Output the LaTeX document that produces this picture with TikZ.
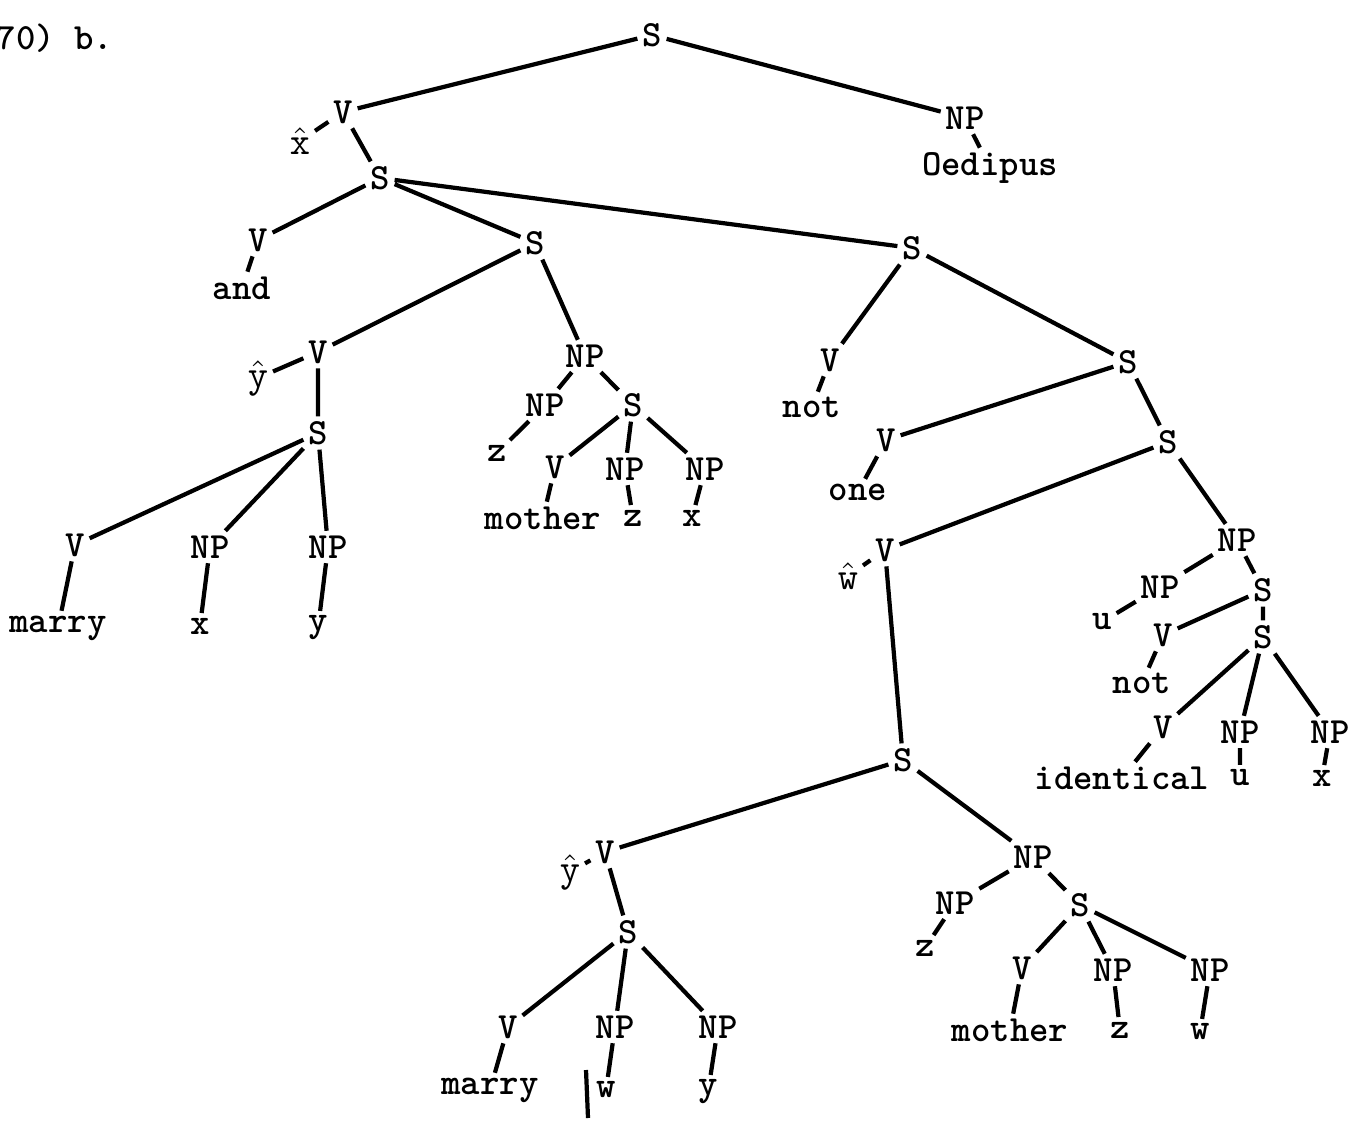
\documentclass[tikz,border=0pt]{standalone}

\begin{document}
\begin{tikzpicture}[
  x=0.01cm, y=-0.01cm,
  cat/.style={font=\fontsize{10.5}{12}\ttfamily\bfseries, inner sep=1.2pt},
  branch/.style={line width=1.2pt}
]
\useasboundingbox (0,0) rectangle (1364,1121);

\node[cat, anchor=west] (label) at (-8,38) {70) b.};

% top
\node[cat] (s0) at (652,35) {S};
\node[cat] (v1) at (343,112) {V};
\node[cat] (xh) at (300,141) {$\hat{\mathtt{x}}$};
\node[cat] (np1) at (965,118) {NP};
\node[cat] (oed) at (990,168) {Oedipus};
\node[cat] (s1) at (380,178) {S};
\node[cat] (v2) at (258,240) {V};
\node[cat] (and) at (242,288) {and};
\node[cat] (s2) at (535,243) {S};
\node[cat] (s3) at (912,248) {S};

% left part
\node[cat] (v3) at (318,352) {V};
\node[cat] (yha) at (258,378) {$\hat{\mathtt{y}}$};
\node[cat] (s4) at (318,433) {S};
\node[cat] (v4) at (75,545) {V};
\node[cat] (np3) at (210,547) {NP};
\node[cat] (np4) at (328,547) {NP};
\node[cat] (marrya) at (58,628) {marry};
\node[cat] (xa) at (200,626) {x};
\node[cat] (ya) at (318,628) {y};
\node[cat] (np2) at (585,356) {NP};
\node[cat] (np5) at (545,405) {NP};
\node[cat] (za) at (497,453) {z};
\node[cat] (s5) at (633,405) {S};
\node[cat] (v5) at (555,467) {V};
\node[cat] (np6) at (625,469) {NP};
\node[cat] (np7) at (705,469) {NP};
\node[cat] (mothera) at (543,518) {mother};
\node[cat] (zb) at (633,518) {z};
\node[cat] (xb) at (692,518) {x};

% right part
\node[cat] (v6) at (830,360) {V};
\node[cat] (nota) at (812,407) {not};
\node[cat] (s6) at (1128,362) {S};
\node[cat] (v7) at (886,440) {V};
\node[cat] (one) at (858,492) {one};
\node[cat] (s7) at (1168,442) {S};
\node[cat] (v8) at (885,550) {V};
\node[cat] (wh) at (848,576) {$\hat{\mathtt{w}}$};
\node[cat] (np8) at (1237,540) {NP};
\node[cat] (np9) at (1160,587) {NP};
\node[cat] (ua) at (1102,622) {u};
\node[cat] (s9) at (1263,590) {S};
\node[cat] (v9) at (1163,635) {V};
\node[cat] (notb) at (1142,683) {not};
\node[cat] (s10) at (1263,637) {S};
\node[cat] (v10) at (1163,727) {V};
\node[cat] (np10) at (1240,732) {NP};
\node[cat] (np11) at (1330,732) {NP};
\node[cat] (ident) at (1122,778) {identical};
\node[cat] (ub) at (1240,778) {u};
\node[cat] (xc) at (1322,778) {x};

% bottom part
\node[cat] (s8) at (903,760) {S};
\node[cat] (v11) at (605,852) {V};
\node[cat] (yhb) at (570,872) {$\hat{\mathtt{y}}$};
\node[cat] (s11) at (628,932) {S};
\node[cat] (v12) at (508,1027) {V};
\node[cat] (np13) at (615,1027) {NP};
\node[cat] (np14) at (718,1027) {NP};
\node[cat] (marryb) at (490,1090) {marry};
\node[cat] (wa) at (606,1090) {w};
\node[cat] (yb) at (708,1092) {y};
\node[cat] (np12) at (1033,857) {NP};
\node[cat] (np15) at (955,903) {NP};
\node[cat] (zc) at (925,948) {z};
\node[cat] (s12) at (1080,905) {S};
\node[cat] (v13) at (1022,968) {V};
\node[cat] (np16) at (1113,970) {NP};
\node[cat] (np17) at (1210,970) {NP};
\node[cat] (motherb) at (1010,1030) {mother};
\node[cat] (zd) at (1120,1030) {z};
\node[cat] (wb) at (1200,1032) {w};

% branches
\draw[branch] (s0) -- (v1) (s0) -- (np1) (v1) -- (xh) (v1) -- (s1) (np1) -- (oed);
\draw[branch] (s1) -- (v2) (s1) -- (s2) (s1) -- (s3) (v2) -- (and);
\draw[branch] (s2) -- (v3) (s2) -- (np2) (v3) -- (yha) (v3) -- (s4);
\draw[branch] (s4) -- (v4) (s4) -- (np3) (s4) -- (np4);
\draw[branch] (v4) -- (marrya) (np3) -- (xa) (np4) -- (ya);
\draw[branch] (np2) -- (np5) (np2) -- (s5) (np5) -- (za);
\draw[branch] (s5) -- (v5) (s5) -- (np6) (s5) -- (np7);
\draw[branch] (v5) -- (mothera) (np6) -- (zb) (np7) -- (xb);
\draw[branch] (s3) -- (v6) (s3) -- (s6) (v6) -- (nota);
\draw[branch] (s6) -- (v7) (s6) -- (s7) (v7) -- (one);
\draw[branch] (s7) -- (v8) (s7) -- (np8) (v8) -- (wh) (v8) -- (s8);
\draw[branch] (np8) -- (np9) (np8) -- (s9) (np9) -- (ua);
\draw[branch] (s9) -- (v9) (s9) -- (s10) (v9) -- (notb);
\draw[branch] (s10) -- (v10) (s10) -- (np10) (s10) -- (np11);
\draw[branch] (v10) -- (ident) (np10) -- (ub) (np11) -- (xc);
\draw[branch] (s8) -- (v11) (s8) -- (np12) (v11) -- (yhb) (v11) -- (s11);
\draw[branch] (s11) -- (v12) (s11) -- (np13) (s11) -- (np14);
\draw[branch] (v12) -- (marryb) (np13) -- (wa) (np14) -- (yb);
\draw[branch] (np12) -- (np15) (np12) -- (s12) (np15) -- (zc);
\draw[branch] (s12) -- (v13) (s12) -- (np16) (s12) -- (np17);
\draw[branch] (v13) -- (motherb) (np16) -- (zd) (np17) -- (wb);

% stray stroke
\draw[branch] (586,1070) -- (588,1118);

\end{tikzpicture}
\end{document}
